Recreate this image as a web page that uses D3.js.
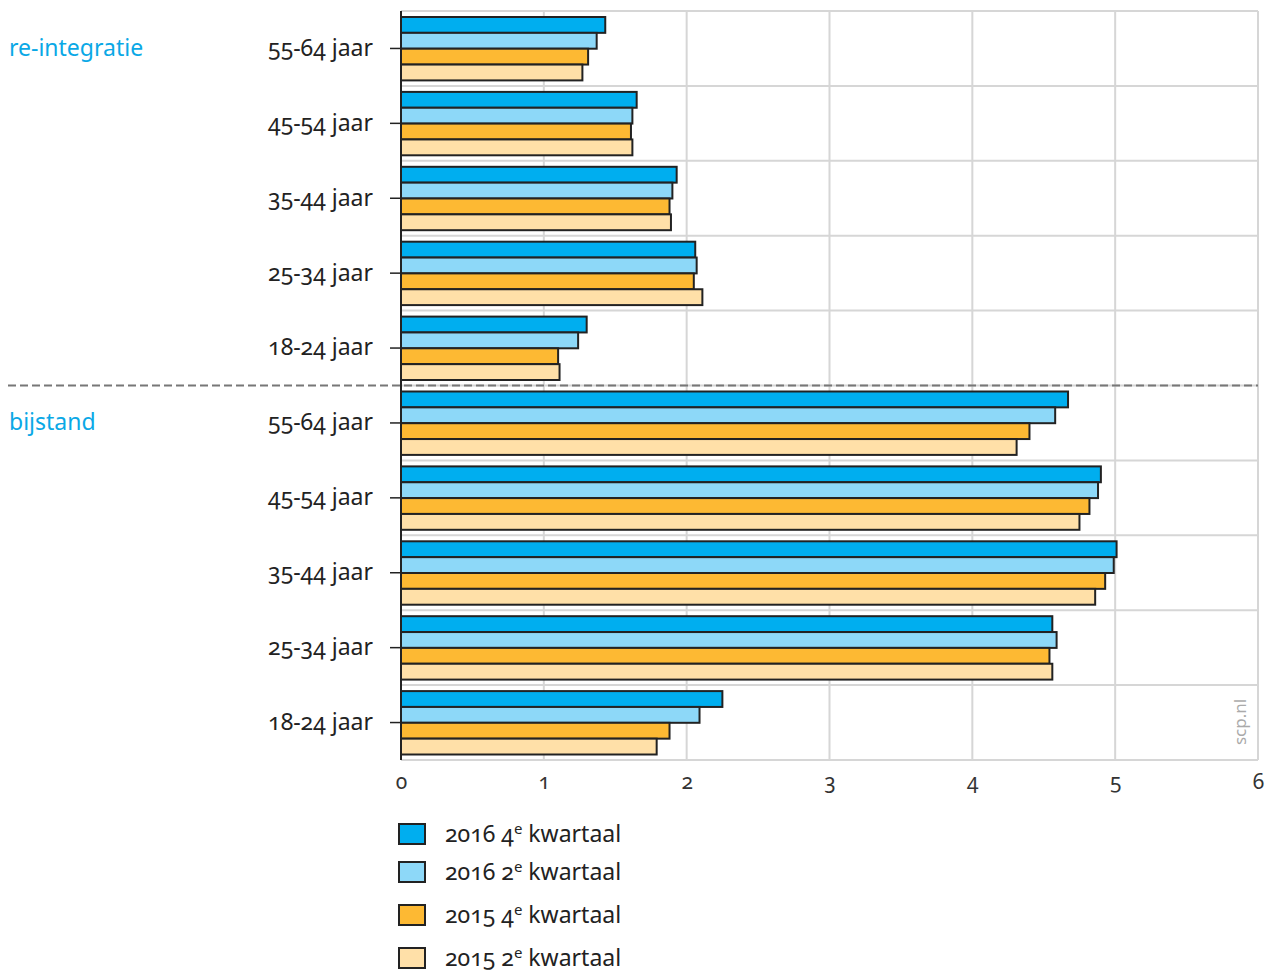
<!DOCTYPE html>
<html><head><meta charset="utf-8">
<script src="https://cdn.jsdelivr.net/npm/d3@7"></script>
<style>
body{margin:0;background:#fff;}
text{font-family:"Noto Sans","Open Sans",sans-serif;font-feature-settings:'onum';}
</style></head>
<body><svg id="c" width="1267" height="974"></svg>
<script>
const sections = ["re-integratie","bijstand"];
const ageGroups = ["55-64 jaar","45-54 jaar","35-44 jaar","25-34 jaar","18-24 jaar"];
const seriesNames = ["2016 4e kwartaal","2016 2e kwartaal","2015 4e kwartaal","2015 2e kwartaal"];
const seriesLabelParts = [["2016 4","e"," kwartaal"],["2016 2","e"," kwartaal"],["2015 4","e"," kwartaal"],["2015 2","e"," kwartaal"]];
const seriesColors = ["#00aeef","#8dd8f8","#fdb933","#ffe0a8"];
// values per row (section, age group) in series order
const reintegratie = [
  [1.43,1.37,1.31,1.27],
  [1.65,1.62,1.61,1.62],
  [1.93,1.90,1.88,1.89],
  [2.06,2.07,2.05,2.11],
  [1.30,1.24,1.10,1.11]
];
const bijstand = [
  [4.67,4.58,4.40,4.31],
  [4.90,4.88,4.82,4.75],
  [5.01,4.99,4.93,4.86],
  [4.56,4.59,4.54,4.56],
  [2.25,2.09,1.88,1.79]
];
const xTicks = [0,1,2,3,4,5,6];

(function(){
const rows = [];
[reintegratie,bijstand].forEach((sec,si)=>sec.forEach((vals,ai)=>rows.push({id:si+"-"+ai,section:sections[si],age:ageGroups[ai],vals})));

const svg = d3.select("#c");
const pL=401, pR=1258, pT=11, pB=760;
const x = d3.scaleLinear().domain([0,6]).range([pL,pR]);
const y = d3.scaleBand().domain(rows.map(r=>r.id)).range([pT,pB]).paddingInner(0).paddingOuter(0);
const yi = d3.scaleBand().domain(d3.range(4)).range([6, y.bandwidth()-5.5]);

// grid
const g = svg.append("g");
g.selectAll(".vg").data(xTicks.slice(1)).join("line")
  .attr("x1",d=>x(d)).attr("x2",d=>x(d)).attr("y1",pT).attr("y2",pB)
  .attr("stroke","#d6d6d6").attr("stroke-width",2);
const hLines = rows.map(r=>y(r.id)).concat([pB]);
g.selectAll(".hg").data(hLines).join("line")
  .attr("x1",pL).attr("x2",pR).attr("y1",d=>d).attr("y2",d=>d)
  .attr("stroke","#d6d6d6").attr("stroke-width",2);

// bars
const rg = svg.selectAll(".row").data(rows).join("g").attr("transform",r=>`translate(0,${y(r.id)})`);
rg.selectAll("rect").data(r=>r.vals).join("rect")
  .attr("x",x(0)).attr("y",(d,i)=>yi(i)).attr("height",yi.bandwidth())
  .attr("width",d=>x(d)-x(0)).attr("fill",(d,i)=>seriesColors[i])
  .attr("stroke","#222").attr("stroke-width",2);

// dashed separator
const sepY = y(rows[5].id);
svg.append("line").attr("x1",8).attr("x2",pR).attr("y1",sepY).attr("y2",sepY)
  .attr("stroke","#777").attr("stroke-width",2).attr("stroke-dasharray","8,4");

// y axis
const yAxis = d3.axisLeft(y).tickSize(11).tickPadding(17).tickFormat(id=>rows.find(r=>r.id===id).age);
const ya = svg.append("g").attr("transform",`translate(${pL},0)`).call(yAxis);
ya.select(".domain").attr("stroke","#222").attr("stroke-width",2).attr("d",`M0,${pT}V${pB}`);
ya.selectAll(".tick line").attr("stroke","#222").attr("stroke-width",1.5);
ya.selectAll(".tick text").attr("fill","#222").style("font-size","23px").attr("dy","0.32em");

// x axis labels
const xAxis = d3.axisBottom(x).tickValues(xTicks).tickSize(0).tickPadding(14).tickFormat(d3.format("d"));
const xa = svg.append("g").attr("transform",`translate(0,${pB})`).call(xAxis);
xa.select(".domain").remove();
xa.selectAll(".tick text").attr("fill","#333").style("font-size","21px");

// section labels
svg.selectAll(".sec").data(sections).join("text")
  .attr("x",9).attr("y",(d,i)=>y(rows[i*5].id)+y.bandwidth()/2).attr("dy","0.32em")
  .attr("fill","#0aa8e6").style("font-size","23px").text(d=>d);

// source
svg.append("text").attr("transform","translate(1246,722) rotate(-90)").attr("text-anchor","middle")
  .attr("fill","#aaa").style("font-size","17px").text("scp.nl");

// legend
const legY = [834,872,915,958];
const lg = svg.selectAll(".leg").data(seriesNames).join("g").attr("transform",(d,i)=>`translate(399,${legY[i]})`);
lg.append("rect").attr("x",0).attr("y",-10).attr("width",26).attr("height",20)
  .attr("fill",(d,i)=>seriesColors[i]).attr("stroke","#222").attr("stroke-width",2);
const lt = lg.append("text").attr("x",46).attr("y",0).attr("dy","0.35em").attr("fill","#222").style("font-size","23px");
lt.each(function(d,i){
  const t=d3.select(this); const p=seriesLabelParts[i];
  t.append("tspan").text(p[0]);
  t.append("tspan").attr("dy",-8).style("font-size","15px").text(p[1]);
  t.append("tspan").attr("dy",8).text(p[2]);
});
})();
</script></body></html>
